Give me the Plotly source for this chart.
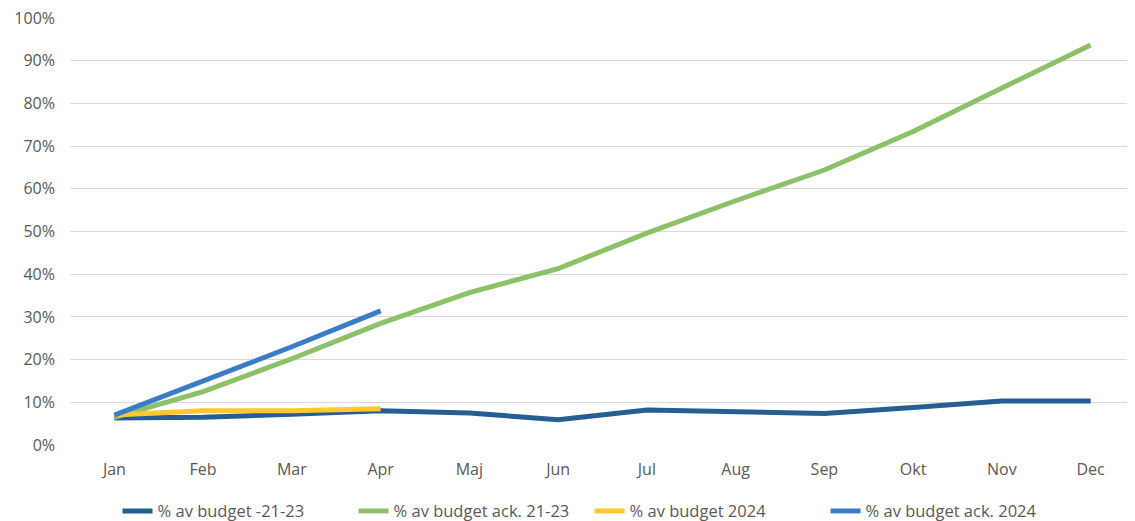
import plotly.graph_objects as go

months = ["Jan", "Feb", "Mar", "Apr", "Maj", "Jun", "Jul", "Aug", "Sep", "Okt", "Nov", "Dec"]
budget_21_23 = [0.063, 0.065, 0.072, 0.080, 0.075, 0.059, 0.082, 0.077, 0.074, 0.088, 0.103, 0.103]
budget_ack_21_23 = [0.065, 0.125, 0.202, 0.285, 0.357, 0.413, 0.496, 0.572, 0.644, 0.734, 0.836, 0.937]
budget_2024 = [0.070, 0.080, 0.080, 0.085]
budget_ack_2024 = [0.070, 0.150, 0.230, 0.314]

series = [
    ("% av budget -21-23", months, budget_21_23, "#255E91"),
    ("% av budget ack. 21-23", months, budget_ack_21_23, "#8CC168"),
    ("% av budget 2024", months[:4], budget_2024, "#FFC82B"),
    ("% av budget ack. 2024", months[:4], budget_ack_2024, "#3A7DC6"),
]

fig = go.Figure()
for name, x, y, c in series:
    fig.add_trace(go.Scatter(x=x, y=y, name=name, mode="lines",
                             line=dict(color=c, width=5)))

fig.update_layout(
    width=1127, height=513,
    margin=dict(l=62, r=0, t=10, b=76, autoexpand=False),
    paper_bgcolor="white", plot_bgcolor="white",
    font=dict(family="Open Sans, Liberation Sans, sans-serif", size=16, color="#595959"),
    showlegend=True,
    legend=dict(orientation="h", x=0.516, xanchor="center", xref="container",
                y=-0.155, yanchor="middle", yref="paper",
                entrywidth=191, entrywidthmode="pixels",
                font=dict(size=16.5, color="#595959"), tracegroupgap=0),
    xaxis=dict(type="category", categoryorder="array", categoryarray=months,
               range=[-0.5, 11.5], showgrid=False, showline=False, zeroline=False,
               ticks="", ticklabelstandoff=13, tickfont=dict(size=16, color="#595959")),
    yaxis=dict(range=[0, 1.0], tickvals=[i / 10 for i in range(11)],
               ticktext=[f"{i*10}%" for i in range(11)],
               showgrid=True, gridcolor="#D9D9D9", gridwidth=1.3,
               zeroline=False, showline=False, ticks="", ticklabelstandoff=14,
               ticklabeloverflow="allow",
               tickfont=dict(size=16, color="#595959")),
)

fig.write_html("out.html")
